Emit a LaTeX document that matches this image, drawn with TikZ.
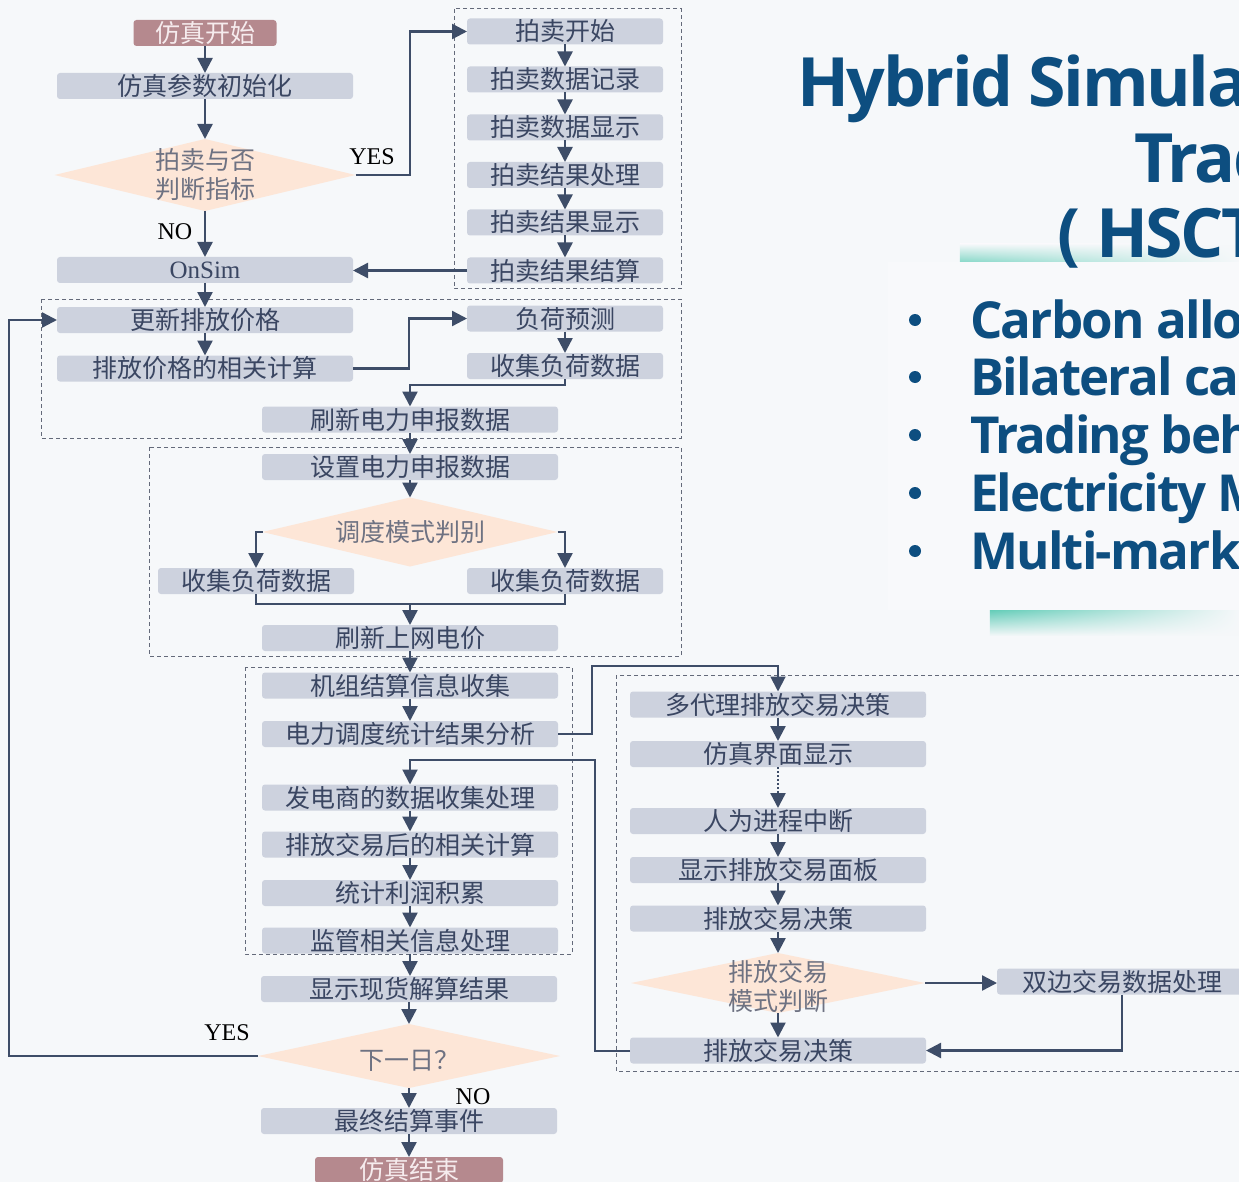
\documentclass[tikz,border=0pt]{standalone}
\usepackage{fontspec}
\setmainfont{Liberation Serif}
\newfontfamily\cjk{Noto Sans CJK SC}
\newfontfamily\titlefont[LetterSpace=-3.5]{Open Sans}
\usetikzlibrary{shapes.geometric,arrows.meta,fadings}

\definecolor{bgc}{RGB}{246,248,250}
\definecolor{panelc}{RGB}{248,249,251}
\definecolor{boxc}{RGB}{205,210,222}
\definecolor{boxtxt}{RGB}{58,70,98}
\definecolor{termc}{RGB}{181,137,142}
\definecolor{termtxt}{RGB}{246,236,238}
\definecolor{decc}{RGB}{253,230,215}
\definecolor{dectxt}{RGB}{110,114,130}
\definecolor{linec}{RGB}{62,77,104}
\definecolor{dashc}{RGB}{100,106,122}
\definecolor{titlec}{RGB}{13,78,128}
\definecolor{glowc}{RGB}{72,196,172}

\begin{document}
\begin{tikzpicture}[x=1pt,y=-1pt,
  every node/.style={inner sep=0pt, outer sep=0pt},
  zh/.style={font=\fontsize{25}{29}\selectfont\cjk},
  box/.style={zh, fill=boxc, rounded corners=3pt, minimum width=296pt, minimum height=26pt, text=boxtxt},
  nbox/.style={box, minimum width=196pt},
  term/.style={box, fill=termc, text=termtxt},
  dec/.style={diamond, fill=decc},
  dectext/.style={zh, text=dectxt, align=center},
  arr/.style={draw=linec, line width=2.4pt, -{Triangle[length=15pt,width=15pt]}},
  thinconn/.style={draw=linec, line width=1.6pt},
  frame/.style={draw=dashc, line width=1pt, dash pattern=on 4pt off 3pt},
  lab/.style={font=\fontsize{24}{26}\selectfont\rmfamily, text=black},
  ttl/.style={font=\fontsize{68}{70}\selectfont\titlefont\bfseries, text=titlec, anchor=base west},
  bul/.style={font=\fontsize{51}{53}\selectfont\titlefont\bfseries, text=titlec, anchor=base west},
]
% canvas
\useasboundingbox (0,0) rectangle (1239,1182);
\clip (0,0) rectangle (1239,1182);
\fill[bgc] (0,0) rectangle (1239,1182);

% title panel with its teal glow
\shade[top color=bgc, bottom color=glowc!65, path fading=east] (960,244) rectangle (1239,262);
\shade[top color=glowc!85, bottom color=bgc, path fading=east] (990,610) rectangle (1239,636);
\fill[panelc] (888,262) rectangle (1239,610);

\node[ttl] (t1) at (797,107) {Hybrid Simulation};
\node[ttl] (t2) at (1134,183) {Trading};
\node[ttl] (t3) at (1057,258) {(\hspace{16pt}HSCT)};

\foreach \yy/\txt [count=\i] in {320/Carbon allowance, 377/Bilateral carbon, 435/Trading behavior, 493/Electricity Market, 551/Multi-market}{
  \fill[titlec] (915,\yy) circle (6);
  \node[bul] (b\i) at (970,\yy+18) {\txt};
}

% dashed group frames
\draw[frame] (454,9) rectangle (681,289);
\draw[frame] (41,299) rectangle (681,438);
\draw[frame] (149,447) rectangle (681,656);
\draw[frame] (245,667) rectangle (572,954);
\draw[frame] (616,675) rectangle (1260,1071);

% left column
\node[term, minimum width=143pt] (start) at (205,33) {仿真开始};
\node[box] (init) at (205,86) {仿真参数初始化};
\node[dec, minimum width=301pt, minimum height=72pt,
      label={[dectext]center:{拍卖与否\\判断指标}}] (d1) at (205,175) {};
\node[box, font=\fontsize{25}{28}\selectfont\rmfamily] (onsim) at (205,270) {OnSim};
\node[box] (upd) at (205,320) {更新排放价格};
\node[box] (calc) at (205,368.5) {排放价格的相关计算};

% auction column
\node[nbox] (a1) at (565,31.5) {拍卖开始};
\node[nbox] (a2) at (565,79.5) {拍卖数据记录};
\node[nbox] (a3) at (565,127.5) {拍卖数据显示};
\node[nbox] (a4) at (565,175) {拍卖结果处理};
\node[nbox] (a5) at (565,222.5) {拍卖结果显示};
\node[nbox] (a6) at (565,270.5) {拍卖结果结算};
\node[nbox] (load1) at (565,318.5) {负荷预测};
\node[nbox] (load2) at (565,366) {收集负荷数据};

% middle column
\node[box] (refresh) at (410,419.5) {刷新电力申报数据};
\node[box] (setp) at (410,467) {设置电力申报数据};
\node[dec, minimum width=295pt, minimum height=69pt,
      label={[dectext]center:{调度模式判别}}] (d2) at (410,532) {};
\node[nbox] (colL) at (256,581) {收集负荷数据};
\node[nbox] (colR) at (565,581) {收集负荷数据};
\node[box] (price) at (410,638) {刷新上网电价};
\node[box] (unit) at (410,685.5) {机组结算信息收集};
\node[box] (stat) at (410,734) {电力调度统计结果分析};
\node[box] (gen) at (410,797.5) {发电商的数据收集处理};
\node[box] (post) at (410,844.5) {排放交易后的相关计算};
\node[box] (prof) at (410,893) {统计利润积累};
\node[box] (superv) at (410,940.5) {监管相关信息处理};
\node[box] (spot) at (409,989) {显示现货解算结果};
\node[dec, minimum width=302pt, minimum height=64pt,
      label={[dectext, yshift=-5pt]center:{下一日？}}] (d3) at (409,1056) {};
\node[box] (final) at (409,1121) {最终结算事件};
\node[term, minimum width=188pt] (stop) at (409,1170) {仿真结束};

% trading column
\node[box] (m1) at (778,704.5) {多代理排放交易决策};
\node[box] (m2) at (778,754) {仿真界面显示};
\node[box] (m3) at (778,821) {人为进程中断};
\node[box] (m4) at (778,870) {显示排放交易面板};
\node[box] (m5) at (778,918.5) {排放交易决策};
\node[dec, minimum width=294pt, minimum height=60pt,
      label={[dectext, yshift=-3pt]center:{排放交易\\模式判断}}] (d4) at (778,983) {};
\node[box] (m6) at (778,1050.5) {排放交易决策};
\node[box, minimum width=250pt] (bil) at (1122,981.5) {双边交易数据处理};

% bend points
\coordinate (yesbend) at (410,175);
\coordinate (loadbend) at (409,340);
\coordinate (merge) at (410,604);
\coordinate (statbend) at (592,666);
\coordinate (genbend) at (595,760);
\coordinate (loopbend) at (9,700);

% connectors: simulation start and auction branch
\draw[arr] (start) -- (init);
\draw[arr] (init) -- (d1);
\draw[arr] (d1.south) -- (onsim.north);
\node[lab] (no1) at (175,232) {NO};
\draw[arr] (d1.east) -- (yesbend) |- (a1.west);
\node[lab] (yes1) at (372,157) {YES};
\draw[arr] (a1) -- (a2);
\draw[arr] (a2) -- (a3);
\draw[arr] (a3) -- (a4);
\draw[arr] (a4) -- (a5);
\draw[arr] (a5) -- (a6);
\draw[arr] (a6.west) -- (a6.west -| onsim.east);

% daily loop: prices and load
\draw[arr] (onsim) -- (upd);
\draw[arr] (upd) -- (calc);
\draw[arr] (calc.east) -| (loadbend) |- (load1.west);
\draw[arr] (load1) -- (load2);
\draw[arr] (load2.south) -- ++(0,6) -| (refresh.north);
\draw[arr] (refresh) -- (setp);
\draw[arr] (setp) -- (d2);
\draw[arr] (d2.west) -| (colL.north);
\draw[arr] (d2.east) -| (colR.north);
\draw[thinconn] (colL.south) |- (merge) -| (colR.south);
\draw[arr] (merge) -- (price.north);
\draw[arr] (price) -- (unit);
\draw[arr] (unit) -- (stat);

% emission trading branch
\draw[arr, line width=2pt] (stat.east) -| (statbend) -| (m1.north);
\draw[arr] (m1) -- (m2);
\draw[arr, dash pattern=on 2pt off 2pt] (m2) -- (m3);
\draw[arr] (m3) -- (m4);
\draw[arr] (m4) -- (m5);
\draw[arr] (m5) -- (d4);
\draw[arr] (d4) -- (m6);
\draw[arr] (d4.east) -- (bil.west |- d4.east);
\draw[arr] (bil.south) |- (m6.east);
\draw[arr, line width=2pt] (m6.west) -| (genbend) -| (gen.north);

% settlement and end
\draw[arr] (gen) -- (post);
\draw[arr] (post) -- (prof);
\draw[arr] (prof) -- (superv);
\draw[arr] (superv.south) -- (superv.south |- spot.north);
\draw[arr] (spot) -- (d3);
\draw[arr] (d3.west) -| (loopbend) |- (upd.west);
\node[lab] (yes2) at (227,1033) {YES};
\draw[arr] (d3.south) -- (final.north);
\node[lab] (no2) at (473,1097) {NO};
\draw[arr] (final) -- (stop);
\end{tikzpicture}
\end{document}
